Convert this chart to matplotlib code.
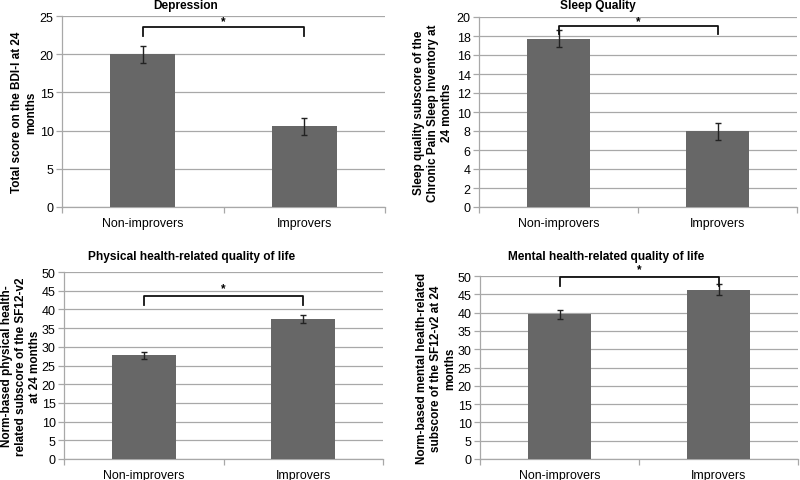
import matplotlib
matplotlib.use("Agg")
import matplotlib.pyplot as plt

plt.rcParams["font.family"] = ["Liberation Sans", "DejaVu Sans"]

# data
categories = ["Non-improvers", "Improvers"]

titles = ["Depression", "Sleep Quality",
          "Physical health-related quality of life", "Mental health-related quality of life"]
ylabels = ["Total score on the BDI-I at 24\nmonths",
           "Sleep quality subscore of the\nChronic Pain Sleep Inventory at\n24 months",
           "Norm-based physical health-\nrelated subscore of the SF12-v2\nat 24 months",
           "Norm-based mental health-related\nsubscore of the SF12-v2 at 24\nmonths"]

means = [[20.0, 10.55], [17.7, 7.95], [27.7, 37.4], [39.5, 46.3]]
errors = [[1.1, 1.1], [0.9, 0.9], [1.0, 1.1], [1.3, 1.4]]
ymax = [25, 20, 50, 50]
ystep = [5, 2, 5, 5]

# significance bracket: top line level, end drop level, star level
bracket_top = [23.6, 19.1, 43.7, 49.8]
bracket_end = [22.4, 18.25, 41.3, 47.4]
star_y = [24.3, 19.55, 45.6, 51.9]

BAR_COLOR = "#676767"
GRID_COLOR = "#a8a8a8"

W, H = 800, 481
# axes boxes in pixels: left, top, right, bottom
boxes = [(62, 17, 385, 208), (479, 18, 797, 208),
         (64, 273, 383, 460), (480, 277, 798, 460)]
title_pos = [(186, 6), (598, 6), (192, 257), (606, 257)]
label_x = [-0.118, -0.145, -0.134, -0.138]

fig = plt.figure(figsize=(W / 100, H / 100), dpi=100)

for i in range(4):
    l, t, r, b = boxes[i]
    ax = fig.add_axes([l / W, 1 - b / H, (r - l) / W, (b - t) / H])
    xs = range(len(categories))
    ax.bar(xs, means[i], width=0.4, color=BAR_COLOR, zorder=3)
    ax.errorbar(xs, means[i], yerr=errors[i], fmt="none", ecolor="#222222",
                elinewidth=1, capsize=2.5, capthick=1, zorder=4)

    ax.set_xlim(-0.5, 1.5)
    ax.set_ylim(0, ymax[i])
    ax.set_yticks(range(0, ymax[i] + 1, ystep[i]))
    ax.yaxis.grid(True, color=GRID_COLOR, linewidth=0.9, zorder=0)
    ax.set_axisbelow(True)

    ax.set_xticks(list(xs))
    ax.set_xticklabels(categories, fontsize=8.9)
    ax.tick_params(axis="x", which="major", length=0, pad=7)
    ax.set_xticks([-0.5, 0.5, 1.5], minor=True)
    ax.tick_params(axis="x", which="minor", length=4, color=GRID_COLOR, width=0.9)
    ax.tick_params(axis="y", labelsize=9, length=4, color=GRID_COLOR, width=0.9, pad=2)

    for side in ["top", "right"]:
        ax.spines[side].set_visible(False)
    for side in ["left", "bottom"]:
        ax.spines[side].set_color(GRID_COLOR)
        ax.spines[side].set_linewidth(0.9)

    ax.set_ylabel(ylabels[i], fontsize=8.5, fontweight="bold", va="center",
                  linespacing=1.2)
    ax.yaxis.set_label_coords(label_x[i], 0.5)

    # bracket
    ax.plot([0, 0, 1, 1], [bracket_end[i], bracket_top[i], bracket_top[i], bracket_end[i]],
            color="#111111", linewidth=1.3, clip_on=False, zorder=5)
    ax.text(0.5, star_y[i], "*", ha="center", va="center", fontsize=8.5,
            fontweight="bold", clip_on=False)

    tx, ty = title_pos[i]
    fig.text(tx / W, 1 - ty / H, titles[i], ha="center", va="center",
             fontsize=8.6, fontweight="bold")

fig.savefig("out.png", dpi=100)
